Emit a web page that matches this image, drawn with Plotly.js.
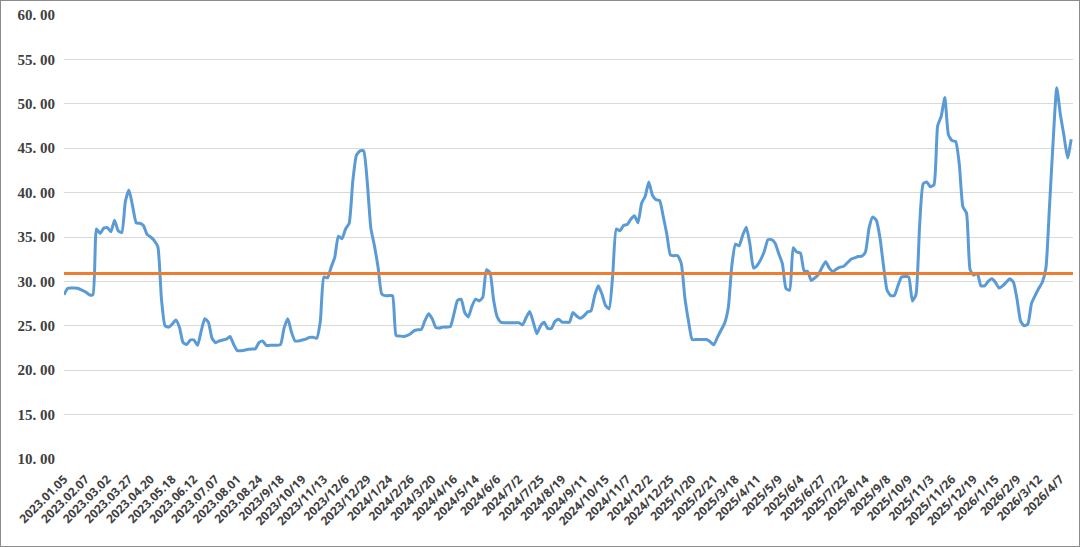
<!DOCTYPE html>
<html>
<head>
<meta charset="utf-8">
<script src="https://cdn.plot.ly/plotly-3.0.1.min.js"></script>
<style>
  html, body { margin: 0; padding: 0; background: #ffffff; }
  #chart { width: 1078px; height: 545px; border: 1px solid #8c8c8c; }
</style>
</head>
<body>
<div id="chart"></div>
<script>
// Tick labels along the category axis (one every few data points)
const tickLabels = [
  "2023.01.05","2023.02.07","2023.03.02","2023.03.27","2023.04.20","2023.05.18",
  "2023.06.12","2023.07.07","2023.08.01","2023.08.24","2023/9/18","2023/10/19",
  "2023/11/13","2023/12/6","2023/12/29","2024/1/24","2024/2/26","2024/3/20",
  "2024/4/16","2024/5/14","2024/6/6","2024/7/2","2024/7/25","2024/8/19",
  "2024/9/11","2024/10/15","2024/11/7","2024/12/2","2024/12/25","2025/1/20",
  "2025/2/21","2025/3/18","2025/4/11","2025/5/9","2025/6/4","2025/6/27",
  "2025/7/22","2025/8/14","2025/9/8","2025/10/9","2025/11/3","2025/11/26",
  "2025/12/19","2026/1/15","2026/2/9","2026/3/12","2026/4/7"
];
const pointsPerLabel = 6;

// Series values
const seriesValues = [
  28.5,29.2,29.25,29.25,29.2,29.0,28.8,28.5,28.5,35.9,
  35.4,36.0,36.05,35.6,36.9,35.7,35.5,39.0,40.3,38.5,
  36.6,36.55,36.3,35.3,35.0,34.6,33.9,28.0,25.0,24.85,
  25.2,25.65,24.8,23.1,22.9,23.4,23.4,22.8,24.4,25.8,
  25.4,23.6,23.1,23.3,23.4,23.5,23.8,22.9,22.2,22.2,
  22.25,22.35,22.4,22.4,23.1,23.3,22.8,22.8,22.8,22.8,
  22.9,24.8,25.8,24.3,23.3,23.3,23.4,23.5,23.7,23.7,
  23.6,25.5,30.5,30.4,31.6,32.7,35.1,34.8,35.9,36.55,
  41.3,44.2,44.7,44.7,41.2,36.0,34.0,31.6,28.6,28.4,
  28.4,28.4,23.9,23.85,23.8,23.9,24.1,24.45,24.55,24.6,
  25.6,26.35,25.8,24.8,24.75,24.85,24.85,24.9,26.3,27.85,
  28.0,26.5,26.0,27.2,28.0,27.8,28.2,31.3,31.0,27.9,
  26.0,25.4,25.35,25.35,25.35,25.35,25.35,25.1,25.9,26.6,
  25.4,24.1,25.0,25.4,24.7,24.7,25.5,25.75,25.4,25.4,
  25.4,26.5,26.1,25.85,26.1,26.55,26.7,28.4,29.5,28.6,
  27.3,26.9,30.7,35.9,35.7,36.3,36.4,37.0,37.4,36.6,
  38.8,39.6,41.2,39.7,39.2,39.1,37.3,35.3,32.95,32.9,
  32.9,32.0,28.1,25.5,23.45,23.45,23.45,23.45,23.45,23.2,
  22.85,23.7,24.5,25.3,27.0,31.8,34.2,34.0,35.2,36.1,
  34.2,31.5,31.8,32.45,33.4,34.7,34.7,34.3,33.1,32.0,
  29.2,29.0,33.8,33.3,33.2,31.2,31.1,30.1,30.4,30.8,
  31.6,32.2,31.5,31.1,31.4,31.6,31.7,32.1,32.5,32.65,
  32.8,32.85,33.3,36.0,37.25,36.9,35.0,31.8,29.0,28.4,
  28.4,29.5,30.5,30.55,30.5,27.8,28.5,36.2,41.0,41.2,
  40.65,40.9,47.5,48.6,50.7,46.5,45.85,45.75,43.2,38.4,
  37.7,31.3,30.7,30.9,29.5,29.5,30.0,30.3,29.9,29.25,
  29.5,29.9,30.3,29.9,28.0,25.5,25.0,25.2,27.5,28.4,
  29.2,29.9,31.5,38.5,45.8,51.8,48.8,46.4,43.9,46.0
];
const averageValue = 30.9;

const yTickValues = [10, 15, 20, 25, 30, 35, 40, 45, 50, 55, 60];

const xIdx = seriesValues.map((_, i) => i);
const lastIdx = seriesValues.length - 1;
const tickVals = tickLabels.map((_, i) => i * pointsPerLabel);
const yTickText = yTickValues.map(v => v.toFixed(2).replace('.', '. '));

const traces = [
  {
    x: xIdx,
    y: seriesValues,
    type: 'scatter',
    mode: 'lines',
    line: { color: '#5b9bd5', width: 3, shape: 'spline', smoothing: 0.5 },
    hoverinfo: 'skip'
  },
  {
    x: [0, lastIdx + 0.5],
    y: [averageValue, averageValue],
    type: 'scatter',
    mode: 'lines',
    line: { color: '#ed7d31', width: 3 },
    hoverinfo: 'skip'
  }
];

const layout = {
  width: 1078,
  height: 545,
  margin: { l: 63, r: 6, t: 14, b: 87 },
  paper_bgcolor: '#ffffff',
  plot_bgcolor: '#ffffff',
  showlegend: false,
  xaxis: {
    range: [0, lastIdx + 0.5],
    tickmode: 'array',
    tickvals: tickVals,
    ticktext: tickLabels,
    tickangle: -45,
    showgrid: false,
    zeroline: false,
    showline: false,
    ticks: '',
    ticklabelstandoff: 10,
    tickfont: { family: 'Open Sans, sans-serif', size: 12, color: '#404040', weight: 'bold' }
  },
  yaxis: {
    range: [10, 60],
    tickmode: 'array',
    tickvals: yTickValues,
    ticktext: yTickText,
    showgrid: true,
    gridcolor: '#d9d9d9',
    gridwidth: 1,
    zeroline: false,
    showline: false,
    ticks: '',
    ticklabelstandoff: 8,
    tickfont: { family: 'Liberation Serif, serif', size: 15, color: '#404040', weight: 'bold' }
  }
};

Plotly.newPlot('chart', traces, layout, { displayModeBar: false, staticPlot: true });
</script>
</body>
</html>
